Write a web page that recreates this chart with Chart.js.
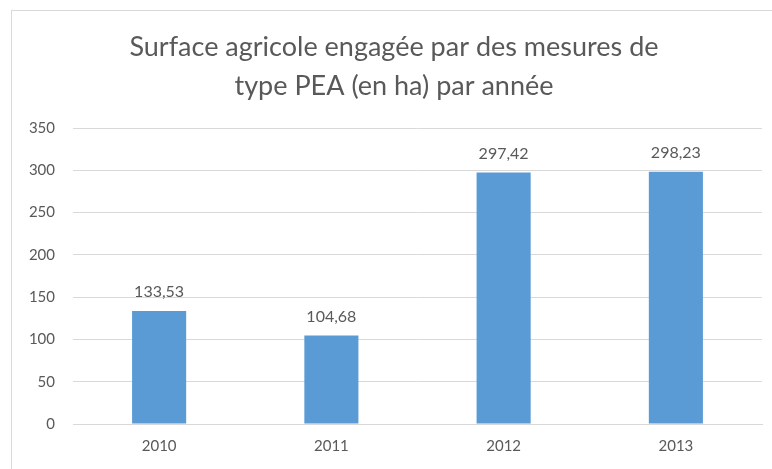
<!DOCTYPE html>
<html>
<head>
<meta charset="utf-8">
<script src="https://cdn.jsdelivr.net/npm/chart.js@4.4.1/dist/chart.umd.min.js"></script>
<style>
  html, body { margin: 0; background: #fff; overflow: hidden; }
  #frame { position: absolute; left: 11px; top: 10px; width: 800px; height: 500px; border: 1px solid #d9d9d9; }
  #wrap { position: absolute; left: 0; top: 0; width: 772px; height: 469px; }
</style>
</head>
<body>
<div id="frame"></div>
<div id="wrap"><canvas id="myChart"></canvas></div>
<script>
// chart data
const years = ["2010", "2011", "2012", "2013"];
const surface = [133.53, 104.68, 297.42, 298.23];
const yTicks = [0, 50, 100, 150, 200, 250, 300, 350];
const titleLines = ["Surface agricole engagée par des mesures de", "type PEA (en ha) par année"];

const textColor = "#595959";
const fontFamily = "Lato, 'Open Sans', sans-serif";

// draws the two title lines (centred like in the original)
const titlePlugin = {
  id: 'titleLines',
  afterDraw(chart) {
    const ctx = chart.ctx;
    ctx.save();
    ctx.fillStyle = textColor;
    ctx.font = "27px " + fontFamily;
    ctx.textAlign = "center";
    ctx.textBaseline = "middle";
    titleLines.forEach((line, i) => ctx.fillText(line, 394, 47 + i * 39));
    ctx.restore();
  }
};

// value labels above each bar, french decimal comma
const valueLabels = {
  id: 'valueLabels',
  afterDatasetsDraw(chart) {
    const ctx = chart.ctx;
    const meta = chart.getDatasetMeta(0);
    ctx.save();
    ctx.fillStyle = textColor;
    ctx.font = "16px " + fontFamily;
    ctx.textAlign = "center";
    ctx.textBaseline = "middle";
    meta.data.forEach((bar, i) => {
      ctx.fillText(surface[i].toFixed(2).replace(".", ","), bar.x, bar.y - 19);
    });
    ctx.restore();
  }
};

const ctx = document.getElementById('myChart').getContext('2d');
const myChart = new Chart(ctx, {
  type: 'bar',
  data: {
    labels: years,
    datasets: [{
      data: surface,
      backgroundColor: "#5b9bd5",
      categoryPercentage: 1,
      barPercentage: 0.314
    }]
  },
  options: {
    responsive: true,
    maintainAspectRatio: false,
    animation: false,
    layout: { padding: { top: 128, right: 10, left: 0, bottom: 0 } },
    plugins: {
      legend: { display: false },
      title: { display: false },
      tooltip: { enabled: false }
    },
    scales: {
      x: {
        grid: { display: false, drawTicks: false },
        border: { color: "#d9d9d9" },
        ticks: { color: textColor, font: { family: fontFamily, size: 15 }, padding: 13 },
        afterFit: s => { s.height = 45; }
      },
      y: {
        min: 0,
        max: 350,
        afterBuildTicks: s => { s.ticks = yTicks.map(v => ({ value: v })); },
        grid: { color: "#d9d9d9", drawTicks: false },
        border: { display: false },
        ticks: { color: textColor, font: { family: fontFamily, size: 15 }, padding: 18 },
        afterFit: s => { s.width = 73; }
      }
    }
  },
  plugins: [titlePlugin, valueLabels]
});
</script>
</body>
</html>
